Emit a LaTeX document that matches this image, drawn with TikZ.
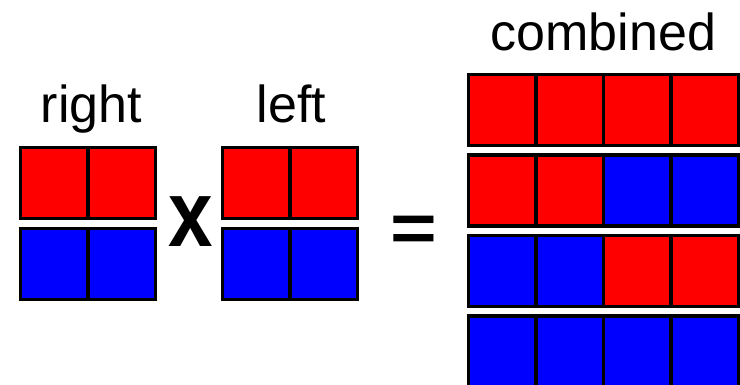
\documentclass[tikz,border=0pt]{standalone}
\usepackage{fontspec}
\setmainfont{Liberation Sans}
\usetikzlibrary{positioning}

\begin{document}
\begin{tikzpicture}[
    x=1pt, y=-1pt,
    node distance=10pt,
    cell/.style={rectangle,draw=black,line width=3.5pt,minimum width=67.5pt,
      minimum height=71pt,inner sep=0pt,outer sep=0pt},
    red cell/.style={cell,fill=red},
    blue cell/.style={cell,fill=blue},
    head text/.style={font=\fontsize{52}{60}\selectfont,anchor=base,inner sep=0pt},
    sign text/.style={font=\fontsize{80}{90}\selectfont\bfseries,inner sep=0pt}
  ]
    \clip (0,0) rectangle (740,385);
    \fill[white] (0,0) rectangle (740,385);

    % right
    \node[head text] (right) at (91.5,123) {right};
    \node[red cell]  (R1) at (54.25,183) {};
    \node[red cell,  right=0pt of R1] (R2) {};
    \node[blue cell, below=of R1] (R3) {};
    \node[blue cell, right=0pt of R3] (R4) {};

    \node[sign text] (times) at (191,222) {\scalebox{1}[1.18]{x}};

    % left
    \node[head text] (left) at (291.5,123) {left};
    \node[red cell]  (L1) at (256.25,183) {};
    \node[red cell,  right=0pt of L1] (L2) {};
    \node[blue cell, below=of L1] (L3) {};
    \node[blue cell, right=0pt of L3] (L4) {};

    \node[sign text] (equals) at (413.5,234) {\scalebox{1}[0.85]{=}};

    % combined
    \node[head text] (combined) at (603.5,51) {combined};
    \foreach \row/\ca/\cb [count=\i] in {0/red/red, 1/red/blue, 2/blue/red, 3/blue/blue} {
      \node[\ca\space cell] (C\i1) at (502.25,110+80.5*\row) {};
      \node[\ca\space cell, right=0pt of C\i1] (C\i2) {};
      \node[\cb\space cell, right=0pt of C\i2] (C\i3) {};
      \node[\cb\space cell, right=0pt of C\i3] (C\i4) {};
    }
\end{tikzpicture}
\end{document}
